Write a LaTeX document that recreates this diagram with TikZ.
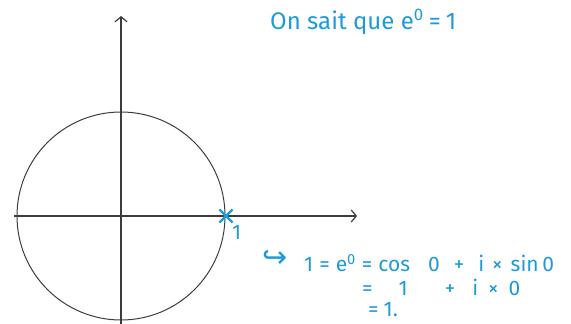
\documentclass[tikz,border=0pt]{standalone}
\usepackage{fontspec}
\setmainfont{Fira Sans}
\newfontfamily\symfont{DejaVu Sans}
\usetikzlibrary{arrows.meta,shapes.misc}
\begin{document}
\begin{tikzpicture}[x=1pt,y=-1pt,font=\fontsize{21}{24}\selectfont]
\definecolor{ink}{HTML}{3C3C3C}\definecolor{pen}{HTML}{1E9BD7}
\tikzset{axis/.style={ink,line width=1.2pt,-{Straight Barb[length=5pt,width=12pt]}},
  note/.style={anchor=west,text=pen,inner sep=0pt}}
\useasboundingbox (0,0) rectangle (571,324);
% axes and unit circle
\coordinate (o) at (121,216);
\coordinate (xl) at (14,216); \coordinate (xr) at (357,216);
\coordinate (yb) at (121,324); \coordinate (yt) at (121,16);
\draw[axis] (xl) -- (xr);
\draw[axis] (yb) -- (yt);
\draw[ink,line width=1pt] (o) circle[radius=104];
% the point 1
\node[cross out,draw=pen,line width=2.2pt,minimum size=11pt,inner sep=0pt] (one) at (226,216) {};
\node[note] (onelbl) at (232,232) {1};
% notes
\node[note,font=\fontsize{24}{27}\selectfont] (fact) at (270,22) {On sait que e\textsuperscript{0}\hspace{5pt}=\hspace{5pt}1};
\node[note,font=\symfont\fontsize{30}{34}\selectfont] (hook) at (262,259) {↪};
\node[note] (lineA) at (304,263) {1\hspace{6pt}=\hspace{6pt}e\textsuperscript{0}\hspace{6pt}=\hspace{6pt}cos\hspace{18pt}0\hspace{14pt}+\hspace{14pt}i\hspace{8pt}×\hspace{8pt}sin\,0};
\node[note] (lineB) at (362,287) {=\hspace{26pt}1\hspace{37pt}+\hspace{17pt}i\hspace{10pt}×\hspace{10pt}0};
\node[note] (lineC) at (368,310) {=\hspace{5pt}1.};
\end{tikzpicture}
\end{document}
